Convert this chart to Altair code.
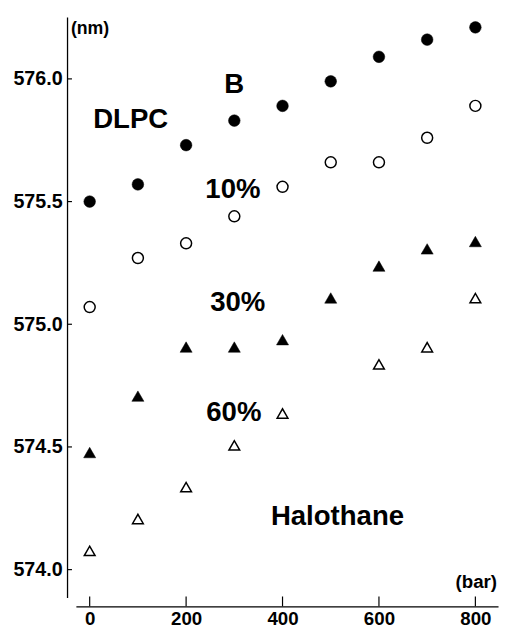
import altair as alt
import pandas as pd

# ---- data ----
pressure = [0, 100, 200, 300, 400, 500, 600, 700, 800]          # bar
dlpc_0 = [575.50, 575.57, 575.73, 575.83, 575.89, 575.99, 576.09, 576.16, 576.21]
dlpc_10 = [575.07, 575.27, 575.33, 575.44, 575.56, 575.66, 575.66, 575.76, 575.89]
dlpc_30 = [574.47, 574.70, 574.90, 574.90, 574.93, 575.10, 575.23, 575.30, 575.33]
dlpc_60 = [574.07, 574.20, 574.33, 574.50, 574.63, None, 574.83, 574.90, 575.10]

x_ticks = [0, 200, 400, 600, 800]
y_ticks = [574.0, 574.5, 575.0, 575.5, 576.0]

big_labels = ["DLPC", "B", "10%", "30%", "60%", "Halothane"]
big_label_x = [85, 300, 297, 307, 299, 514]
big_label_y = [575.83, 575.975, 575.545, 575.085, 574.637, 574.215]

x_unit = "(bar)"
y_unit = "(nm)"

X_DOMAIN = [-28.6, 847]
Y_DOMAIN = [573.8865, 576.2526]
FONT = "Liberation Sans"

def series(vals):
    return pd.DataFrame({"p": pressure, "v": vals}).dropna()

xs = alt.Scale(domain=X_DOMAIN, nice=False, zero=False)
ys = alt.Scale(domain=Y_DOMAIN, nice=False, zero=False)

xaxis = alt.Axis(values=x_ticks, format="d", title=None, grid=False, ticks=False,
                 offset=9, labelPadding=3, labelFont=FONT, labelFontSize=19,
                 labelFontWeight="bold", labelColor="black", domainColor="black",
                 domainWidth=1.3, labelFlush=False)
yaxis = alt.Axis(values=y_ticks, format=".1f", title=None, grid=False, ticks=False,
                 offset=9, labelPadding=5, labelFont=FONT, labelFontSize=20,
                 labelFontWeight="bold", labelColor="black", domainColor="black",
                 domainWidth=1.3, labelFlush=False)

def X(f):
    return alt.X(f, scale=xs, axis=xaxis)

def Y(f):
    return alt.Y(f, scale=ys, axis=yaxis)

TRI = "M-1,0.577L1,0.577L0,-1.155Z"

def pts(vals, shape, filled, size):
    if filled:
        m = alt.Chart(series(vals)).mark_point(shape=shape, filled=True, fill="black",
                                                stroke="black", strokeWidth=0.5,
                                                size=size, opacity=1)
    else:
        m = alt.Chart(series(vals)).mark_point(shape=shape, filled=False, fill="white",
                                                stroke="black", strokeWidth=1.5,
                                                size=size, opacity=1)
    return m.encode(x=X("p:Q"), y=Y("v:Q"))

l0 = pts(dlpc_0, "circle", True, 140)
l10 = pts(dlpc_10, "circle", False, 125)
l30 = pts(dlpc_30, TRI, True, 150)
l60 = pts(dlpc_60, TRI, False, 120)

# tick marks (pointing inward from the offset axis lines)
yt = alt.Chart(pd.DataFrame({"v": y_ticks})).mark_rule(color="black", strokeWidth=1.2).encode(
    y=Y("v:Q"), x=alt.value(-9), x2=alt.value(-4))
xt = alt.Chart(pd.DataFrame({"p": x_ticks})).mark_rule(color="black", strokeWidth=1.2).encode(
    x=X("p:Q"), y=alt.value(589), y2=alt.value(599))

lab = alt.Chart(pd.DataFrame({"t": big_labels, "p": big_label_x, "v": big_label_y})).mark_text(
    font=FONT, fontSize=28, fontWeight="bold", color="black", align="center", baseline="middle"
).encode(x=X("p:Q"), y=Y("v:Q"), text="t:N")

nm = alt.Chart(pd.DataFrame({"t": [y_unit], "p": [-39], "v": [576.204]})).mark_text(
    font=FONT, fontSize=18, fontWeight="bold", color="black", align="left", baseline="middle"
).encode(x=X("p:Q"), y=Y("v:Q"), text="t:N")

bar = alt.Chart(pd.DataFrame({"t": [x_unit], "p": [845], "v": [573.95]})).mark_text(
    font=FONT, fontSize=19, fontWeight="bold", color="black", align="right", baseline="middle"
).encode(x=X("p:Q"), y=Y("v:Q"), text="t:N")

chart = alt.layer(l0, l10, l30, l60, yt, xt, lab, nm, bar).properties(
    width=429, height=590,
    autosize=alt.AutoSizeParams(type="none"),
    padding={"left": 69, "top": 4, "right": 2, "bottom": 28},
    background="white",
).configure_view(stroke=None)

chart.save("out.html", embed_options={"renderer": "svg", "actions": False})
